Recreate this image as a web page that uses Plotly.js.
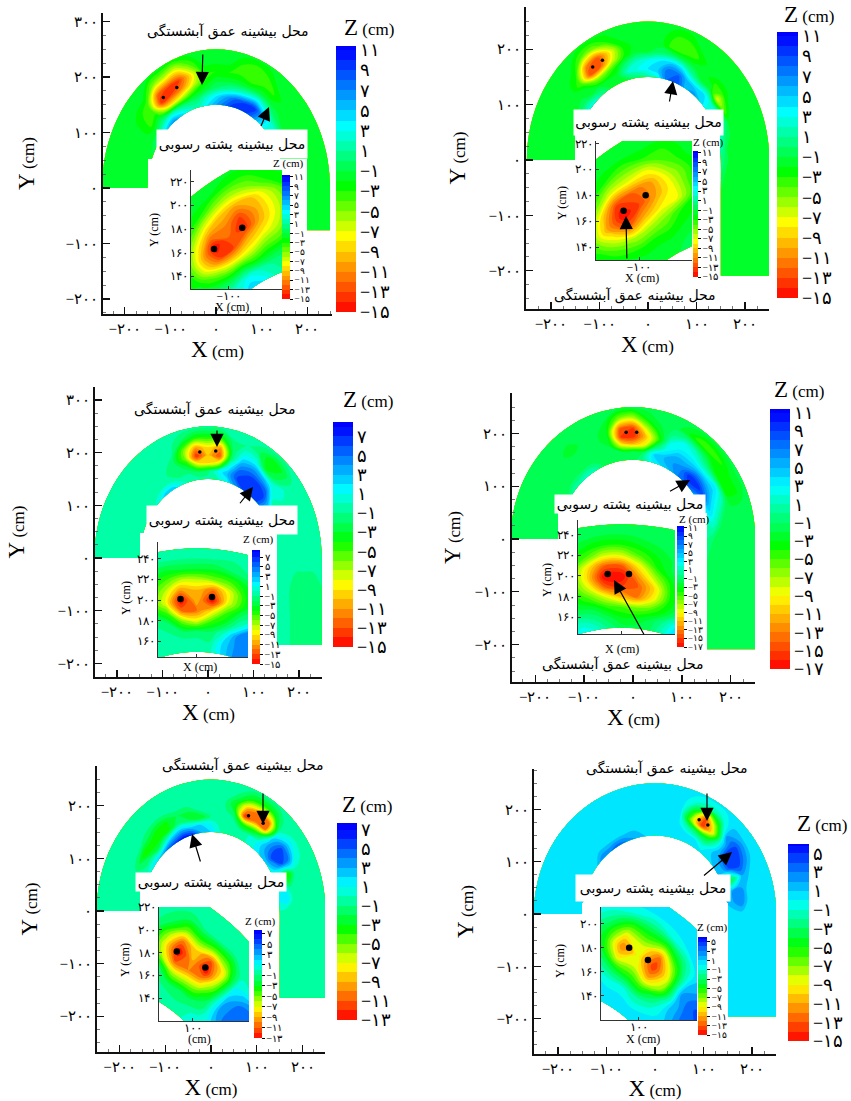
<!DOCTYPE html>
<html><head><meta charset="utf-8">
<script src="https://cdn.plot.ly/plotly-3.0.1.min.js"></script>
<style>html,body{margin:0;padding:0;background:#fff}</style></head>
<body><div id="g" style="width:851px;height:1101px"></div>
<script>
// ---- channel stations ----
const radii=[150,165,180,195,210,230,250];
const bendAngles=[180,172.5,165,157.5,150,142.5,135,127.5,120,112.5,105,97.5,90,82.5,75,67.5,60,52.5,45,37.5,30,22.5,15,7.5,0];
const legEnds=[-76,-209,-165,-209,-165,-196];
const insetRadii=[150,160,170,180,190,200,210,220,230,240,250];
const insetAngles=[[140,135,130,125,120,115,110,105,100],[140,135,130,125,120,115,110,105,100],
 [110,105,100,95,90,85,80,75,70,65],[110,105,100,95,90,85,80,75,70,65],
 [75,70,65,60,55,50,45,40,35],[75,70,65,60,55,50,45,40,35]];
// ---- bed level, main panels (rows: along channel, columns: across channel) ----
const B1=[-1.5,-1.5,-1.5,-1.5,-1.5,-1.5,-1.5];
const z1=[B1,B1,B1,[-1,-1.5,-1.5,-1.5,-1.5,-1.5,-1.5],[0,-1.5,-1.5,-1.5,-1.5,-1.5,-1.5],[3,-1,-3,-3,-2.5,-1.5,-1.5],[5,1,-2,-4,-4,-1.5,-1.5],[7,2,-7,-14,-12,-5,-1.5],[5,1,-8,-13,-13,-6,-1.5],[3,0,-6,-11,-13,-7,-2],[2,0,-3,-7,-8,-4,-1.5],[4,2,-1.5,-3,-3,-1.5,-1.5],[6,4,0,-1.5,-3,-1.5,-1.5],[8,6,1,-1.5,-3,-1.5,-1.5],[10,8,2,-1.5,-3,-3,-1.5],[10,9,3,-1.5,-4,-4,-1.5],[8,10,4,-1,-3,-3,-1.5],[5,6,2,-1.5,-3,-1.5,-1.5],[3,3,0,-1.5,-1.5,-1.5,-1.5],[3,2,-1,-1.5,-1.5,-1.5,-1.5],[2,1,-1,-1.5,-1.5,-1.5,-1.5],[0,-1,-1.5,-1.5,-1.5,-1.5,-1.5],B1,B1,B1,B1,B1,B1];
const z2=[B1,B1,B1,[0,-1.5,-1.5,-1.5,-1.5,-1.5,-1.5],[1,-1,-1.5,-1.5,-1.5,-1.5,-1.5],[3,0,-1.5,-1.5,-1.5,-1.5,-1.5],[3,-1,-1.5,-4,-3,-1.5,-1.5],[1,-1,-5,-13,-11,-4,-1.5],[-1,-1.5,-5,-12,-13,-5,-1.5],[-1.5,-1.5,-3,-7,-8,-3,-1.5],[-1,2,0,-3,-3,-1.5,-1.5],[0,3,2,-1,-1.5,-1.5,-1.5],[1,4,3,-1,-1.5,-1.5,-1.5],[3,5,4,0,-1.5,-1.5,-1.5],[8,8,5,0,-4,-3,-1.5],[9,8,4,-1,-4,-3,-1.5],[6,5,1,-1.5,-3,-1.5,-1.5],[7,4,-1,-1.5,-1.5,-1.5,-1.5],[5,4,-1,-3,-1.5,-1.5,-1.5],[3,2,-7,-3,-1.5,-1.5,-1.5],[3,3,-4,-1.5,-1.5,-1.5,-1.5],[4,2,-1.5,-1.5,-1.5,-1.5,-1.5],[3,0,-1.5,-1.5,-1.5,-1.5,-1.5],[2,-1,-1.5,-1.5,-1.5,-1.5,-1.5],[1,-1,-1.5,-1.5,-1.5,-1.5,-1.5],B1,B1,B1];
const B3=[-.5,-.5,-.5,-.5,-.5,-.5,-.5];
const L3=[-.5,-.5,-1,-1.5,-1.5,-1.5,-1];
const z3=[B3,B3,B3,B3,B3,B3,[1,-.5,-.5,-.5,-.5,-.5,-.5],[3,0,-.5,-.5,-.5,-.5,-.5],[3,0,-1,-.5,-.5,-.5,-.5],[1,-1,-1,-2,-1,-.5,-.5],[-.5,-1,-3,-6,-6,-2,-.5],[-.5,-2,-8,-14,-11,-4,-.5],[-.5,-1.5,-9,-10,-9,-4,-.5],[-.5,1,-7,-13,-11,-4,-.5],[1,3,1,-2,-2,-1,-.5],[4,6,5,3,1,-1,-.5],[6,7,6,4,1,-2,-.5],[7,7,6,3,-3,-4,-.5],[6,7,5,1,-2,-3,-.5],[3,3,0,1,0,-1,-.5],[1,0,-2,-1,-1,-.5,-.5],[1,-1,-2,-.5,-.5,-.5,-.5],B3,B3,B3,L3,L3,L3];
const z4=[B1,B1,B1,B1,[-1,-1.5,-1.5,-1.5,-1.5,-1.5,-1.5],[1,-1.5,-1.5,-1.5,-1.5,-1.5,-1.5],[1,-1,-1.5,-1.5,-1.5,-1.5,-1.5],[2,-1,-1.5,-1.5,-3,-1.5,-1.5],[1,-1,-1.5,-1.5,-1.5,-1.5,-1.5],[-1,-1.5,-1.5,-1.5,-1.5,-1.5,-1.5],[-1.5,-1.5,-2,-3,-3,-2,-1.5],[-1.5,-1.5,-9,-15,-14,-6,-1.5],[-1.5,-1.5,-11,-16,-15,-7,-1.5],[0,-1,-9,-11,-8,-3,-1.5],[3,4,-1,-5,-3,-1.5,-1.5],[4,5,3,2,0,-1.5,-1.5],[5,6,5,3,2,-3,-1.5],[7,7,5,3,1,-5,-1.5],[8,10,6,2,-1,-5,-1.5],[7,10,6,2,-3,-4,-1.5],[4,8,5,3,-4,-3,-1.5],[2,5,3,1,-3,-3,-1.5],[1,3,1,-1.5,-1.5,-1.5,-1.5],[1,1,-1,-1.5,-1.5,-1.5,-1.5],[0,-1,-1.5,-1.5,-1.5,-1.5,-1.5],B1,B1,B1];
const z5=[B3,B3,B3,B3,[1,-1,-2,-.5,-.5,-.5,-.5],[2,-1,-4,-1,-.5,-.5,-.5],[3,-2,-4,-2,-.5,-.5,-.5],[5,0,-4,-3,-1,-.5,-.5],[6,2,-3,-3,-1,-.5,-.5],[7,3,-1,-2,-.5,-.5,-.5],[6,2,-2,-2,-.5,-.5,-.5],[3,2,-3,-.5,-.5,-.5,-.5],[2,1,-1,-.5,-.5,-.5,-.5],[0,-.5,-.5,-.5,-.5,-.5,-.5],[0,-.5,-.5,-2,-3,-1,-.5],[-.5,-.5,-4,-12,-9,-3,-.5],[0,0,-4,-10,-11,-4,-.5],[1,1,-2,-10,-10,-3,-.5],[2,3,3,2,0,-.5,-.5],[2,5,6,5,2,-.5,-.5],[1,3,5,4,1,-.5,-.5],[0,-2,-4,-1,-.5,-.5,-.5],[1,1,-1,-.5,-.5,-.5,-.5],[1,2,0,-.5,-.5,-.5,-.5],[0,-.5,-.5,-.5,-.5,-.5,-.5],B3,B3,B3];
const B6=[.5,.5,.5,.5,.5,.5,.5];
const z6=[B6,B6,B6,B6,B6,[1,.5,.5,.5,.5,.5,.5],[3,1,.5,.5,.5,.5,.5],[3,1,0,.5,.5,.5,.5],[4,1,.5,.5,.5,.5,.5],[3,1,.5,.5,.5,.5,.5],[2,1,.5,.5,.5,.5,.5],[1,.5,.5,.5,.5,.5,.5],B6,B6,B6,[.5,.5,-2,-7,-5,-1,.5],[.5,0,-4,-14,-13,-2,.5],[.5,-1,-4,-9,-6,-1,.5],[1,1,0,0,2,1,.5],[1,2,4,5,4,1,.5],[1,2,5,5,3,.5,.5],[1,-4,-2,2,1,.5,.5],[1,2,3,1,.5,.5,.5],[1,2,3,.5,.5,.5,.5],B6,B6,B6,B6];
// ---- bed level, close-ups ----
const i1=[[0,-1,-1.5,-1.5,-1.5,-1.5,-1.5,-1.5,-1.5,-1.5,-1.5],[1,0,-1.5,-1.5,-2.5,-3,-2.5,-1.5,-1.5,-1.5,-1.5],[2,1,-1,-4,-8,-9,-7,-4,-2,-1.5,-1.5],[3,2,-2,-7,-13,-15,-11,-7,-3,-1.5,-1.5],[5,3,-2,-8,-13,-12,-11,-9,-5,-2,-1.5],[4,2,-3,-7,-10,-14,-13,-10,-6,-3,-1.5],[2,1,-2,-5,-8,-10,-10,-9,-5,-3,-1.5],[1,1,-1,-4,-6,-7,-7,-6,-3,-2,-1.5],[2,2,0,-2,-3,-4,-4,-3,-2,-1.5,-1.5]];
const i2=[[0,-1,-1.5,-1.5,-1.5,-1.5,-1.5,-1.5,-1.5,-1.5,-1.5],[-1,-1.5,-1.5,-2,-3,-4,-3,-2,-1.5,-1.5,-1.5],[-1,-1.5,-2,-4,-7,-10,-8,-4,-2,-1.5,-1.5],[-1,-1.5,-3,-6,-12,-15,-13,-7,-3,-1.5,-1.5],[-1,-1.5,-3,-6,-10,-13,-12,-7,-4,-1.5,-1.5],[-1,-1.5,-3,-5,-8,-10,-10,-7,-3,-1.5,-1.5],[0,-1,-2,-3,-7,-7,-6,-4,-3,-1.5,-1.5],[0,-1,-1.5,-2,-3,-3,-3,-2,-1.5,-1.5,-1.5],[-1,-1,-1.5,-1.5,-1.5,-1.5,-1.5,-1.5,-1.5,-1.5,-1.5]];
const i3=[[-.5,-.5,-.5,-.5,-1,-1.5,-1.5,-1,-.5,-.5,-.5],[-.5,-.5,-.5,-1,-2,-4,-4,-3,-2,-1,-.5],[-.5,-.5,-1,-2,-5,-8,-7,-5,-3,-1,-.5],[-.5,-.5,-2,-6,-12,-15,-11,-7,-3,-1,-.5],[-.5,-.5,-2,-8,-12,-10,-10,-7,-3,-1,-.5],[-.5,-1,-2,-5,-9,-15,-12,-6,-3,-1,-.5],[2,2,0,-3,-5,-8,-8,-5,-2,-1,-.5],[4,4,4,0,-2,-4,-4,-3,-1,-.5,-.5],[5,5,5,4,0,-1,-2,-1,-.5,-.5,-.5],[5,5,5,4,1,-.5,-1,-.5,-.5,-.5,-.5]];
const i4=[[1,0,-1.5,-1.5,-1.5,-1.5,-1.5,-1.5,-1.5,-1.5,-1.5],[3,1,-1.5,-3,-4,-4,-4,-3,-2,-1.5,-1.5],[2,0,-2,-5,-8,-10,-9,-5,-3,-1.5,-1.5],[0,-1.5,-4,-8,-14,-17,-14,-8,-4,-2,-1.5],[-1.5,-3,-5,-11,-15,-17,-14,-8,-4,-2,-1.5],[-1.5,-3,-6,-13,-14,-12,-9,-5,-3,-1.5,-1.5],[-1.5,-2,-5,-9,-10,-7,-4,-3,-2,-1.5,-1.5],[1,0,-3,-4,-4,-3,-1.5,-1.5,-1.5,-1.5,-1.5],[4,3,0,-1.5,-1.5,-1.5,-1.5,-1.5,-1.5,-1.5,-1.5],[6,5,2,-1,-1.5,-1.5,-1.5,-1.5,-1.5,-1.5,-1.5]];
const i5=[[-.5,-.5,-.5,-1,-1.5,-1.5,-1,-.5,-.5,-.5,-.5],[-.5,-.5,-1,-2,-6,-7,-5,-2,-1,-.5,-.5],[-.5,-.5,-2,-6,-11,-13,-10,-5,-2,-.5,-.5],[-.5,-1,-2,-6,-10,-9,-8,-4,-1,-.5,-.5],[0,-.5,-2,-5,-9,-13,-11,-5,-1,-.5,-.5],[.5,.5,-1,-2,-4,-6,-7,-4,-1,-.5,-.5],[1,1,2,3,3,2,1,0,-.5,-.5,-.5],[1,2,4,5,5,5,3,0,-.5,-.5,-.5],[1,2,4,5,5,5,4,1,-.5,-.5,-.5]];
const i6=[[.5,.5,.5,0,-1,-1.5,-1,0,.5,.5,.5],[.5,.5,0,-2,-4,-5,-4,-2,0,.5,.5],[.5,.5,-1,-4,-9,-12,-9,-5,-1,.5,.5],[.5,.5,-1,-5,-8,-9,-8,-5,-2,.5,.5],[.5,0,-2,-6,-11,-14,-12,-6,-1,.5,.5],[.5,.5,-1,-3,-7,-8,-6,-3,0,.5,.5],[1,.5,.5,1,1,2,1,.5,.5,.5,.5],[1,1,2,3,4,4,3,2,.5,.5,.5],[1,1,2,3,4,5,4,2,.5,.5,.5]];
// ---- maximum scour points ----
const scourX=[[-115.5,-86],[-114,-94],[-18,17],[-14,7.5],[82,114],[91,109]];
const scourY=[[163,181],[168,180],[201,203],[202,202],[181,167],[180,170]];
// ---- colour bar limits and ticks ----
const barMin=[-15,-15,-15,-17,-13,-15];
const barMax=[11,11,7,11,7,5];
const bandTop=[11.4,11.4,8.5,11.4,7.7,6];
const yTickVals=[[300,200,100,0,-100,-200],[200,100,0,-100,-200],[300,200,100,0,-100,-200],[200,100,0,-100,-200],[200,100,0,-100,-200],[200,100,0,-100,-200]];
const xTickVals=[-200,-100,0,100,200];
const insetYTicks=[[220,200,180,160,140],[220,200,180,160,140],[240,220,200,180,160],[240,220,200,180,160],[220,200,180,160,140],[200,180,160,140]];
const insetXTicks=[[-100],[-100],[0],[0],[100],[100]];
const insetXLabels=[['−۱۰۰'],['−۱۰۰'],[''],[''],['۱۰۰'],['۱۰۰']];
const insetXTitles=['X (cm)','X (cm)','X (cm)','X (cm)','(cm)','X (cm)'];
const labelScour='محل بیشینه عمق آبشستگی';
const labelBar='محل بیشینه پشته رسوبی';
const colours=[[0,'#ff0000'],[.29,'#ffff00'],[.48,'#00ff00'],[.71,'#00ffff'],[1,'#0000ff']];

// ---- layout in pixels ----
const W=851,H=1101;
const geo=[
 {l:103,r:332,t:13,b:314,cx:216,sx:.456,cy:188,sy:.555,yT:76},
 {l:526,r:769,t:7,b:309,cx:648,sx:.485,cy:160,sy:.554,yT:68},
 {l:95,r:322,t:387,b:677,cx:208,sx:.455,cy:558,sy:.527,yT:78},
 {l:512,r:755,t:393,b:682,cx:633,sx:.489,cy:539,sy:.528,yT:59},
 {l:97,r:325,t:766,b:1052,cx:211,sx:.4575,cy:911,sy:.526,yT:67},
 {l:534,r:776,t:769,b:1054,cx:655,sx:.485,cy:914,sy:.5233,yT:68}];
const insets=[
 {l:191,r:282,t:170,b:289,x:[-139.6,-44.4],y:[129,230]},
 {l:596,r:692,t:141,b:260,x:[-139,-52],y:[130,222]},
 {l:158,r:248,t:542,b:657,x:[-43,57],y:[145,256]},
 {l:578,r:675,t:520,b:634,x:[-44,54],y:[144,254]},
 {l:159,r:249,t:907,b:1021,x:[62,163],y:[120,220]},
 {l:601,r:697,t:907,b:1020,x:[64,156],y:[120,214]}];
const masks=[[148,307,159,300],[575,720,135,290],[140,277,533,665],[558,707,513,665],[140,279,890,1040],[582,728,903,1040]];
const bars=[[336,356,46,312],[777,798,32,298],[333,353,422,647],[770,790,409,669],[337,357,823,1020],[788,809,844,1041]];
const miniBars=[[282,290,175,299],[693,698,151,277],[252,260,550,664],[677,684,526,647],[254,262,930,1038],[698,707,937,1035]];
const barTitle=[[369,27],[809,15],[368,399],[799,389],[367,804],[822,823]];
const miniTitle=[[288,164],[708,142],[258,539],[694,519],[260,921],[712,927]];
const miniY=[[154,230],[562,203],[126,598],[547,580],[125,960],[560,961]];
const miniX=[[232,307],[642,278],[200,667],[622,649],[199,1039],[643,1039]];
const labels=[
 {s:[228,32],b:[232,144,148,26],sa:[202,85,203,46],ba:[269,107,258,133]},
 {s:[635,295],b:[648,123,147,23],sa:[626,216,627,267],ba:[673,81,668,110]},
 {s:[215,410],b:[222,520,148,26],sa:[217,447,217,422],ba:[253,487,237,507]},
 {s:[623,664],b:[630,504,148,16],sa:[614,580,647,640],ba:[690,480,667,493]},
 {s:[243,766],b:[211,882,148,16],sa:[263,824,263,785],ba:[192,834,203,870]},
 {s:[667,768],b:[653,888,152,24],sa:[707,821,707,785],ba:[732,852,701,878]}];

const serif='"Liberation Serif","Times New Roman",serif';
const farsi='"DejaVu Sans","Noto Sans",sans-serif';
const FA='۰۱۲۳۴۵۶۷۸۹';
const fa=v=>(v<0?'−':'')+String(Math.abs(v)).replace(/\d/g,d=>FA[d]);
const px=v=>v/W, py=v=>1-v/H;
const bigTitle=l=>'<span style="font-size:23px">'+l+'</span> (cm)';

const traces=[],layout={width:W,height:H,margin:{l:0,r:0,t:0,b:0},paper_bgcolor:'#fff',plot_bgcolor:'#fff',showlegend:false,annotations:[],font:{family:serif,color:'#000'}};
const zs=[z1,z2,z3,z4,z5,z6],izs=[i1,i2,i3,i4,i5,i6];
const polar=(r,t)=>[r*Math.cos(t*Math.PI/180),r*Math.sin(t*Math.PI/180)];
function carpetAxis(){return {showticklabels:'none',showgrid:false,showline:false,startline:false,endline:false,minorgridcount:0,ticks:'',smoothing:0,title:{text:''},cheatertype:'value'};}
function addField(id,xa,ya,a,xx,yy,z,i,bar,thin){
 traces.push({type:'carpet',carpet:id,a:a,b:z.map((_,k)=>k),x:xx,y:yy,xaxis:xa,yaxis:ya,aaxis:carpetAxis(),baxis:Object.assign(carpetAxis(),{smoothing:1}),hoverinfo:'skip'});
 const vals=[];for(let v=barMax[i];v>=barMin[i];v-=2)vals.push(v);
 const step=(bar[3]-bar[2])/vals.length;
 traces.push({type:'contourcarpet',carpet:id,a:a,b:z.map((_,k)=>k),z:z,xaxis:xa,yaxis:ya,autocontour:false,zauto:false,zmin:barMin[i],zmax:bandTop[i],
  contours:{start:barMin[i],end:Math.floor(bandTop[i]),size:1,coloring:'fill',showlines:false},line:{width:0,smoothing:1},colorscale:colours,hoverinfo:'skip',
  colorbar:{x:px(bar[0]),xanchor:'left',xpad:0,y:py(bar[3]),yanchor:'bottom',ypad:0,lenmode:'pixels',len:bar[3]-bar[2],thickness:bar[1]-bar[0],thicknessmode:'pixels',outlinewidth:0,
   tickmode:'array',tickvals:vals,ticktext:vals.map(fa),ticks:thin?'outside':'',ticklen:thin?3:0,tickcolor:'#000',tickwidth:1,tickfont:{family:serif,size:thin?Math.min(11,step+.5):18,color:'#000'}}});
}
function note(text,x,y,size,extra){layout.annotations.push(Object.assign({text:text,xref:'paper',yref:'paper',x:px(x),y:py(y),xanchor:'center',yanchor:'middle',showarrow:false,font:{family:serif,size:size,color:'#000'}},extra||{}));}
function arrow(a){layout.annotations.push({text:' ',xref:'paper',yref:'paper',x:px(a[0]),y:py(a[1]),axref:'pixel',ayref:'pixel',ax:a[2]-a[0],ay:a[3]-a[1],showarrow:true,arrowhead:2,arrowsize:2.2,arrowwidth:1.2,arrowcolor:'#000',standoff:0,startstandoff:0});}

geo.forEach((g,i)=>{
 const n=i+1,m=i+7,q=i+13;
 // main axes
 const common={showgrid:false,zeroline:false,showline:true,linecolor:'#111',linewidth:2,ticks:'inside',ticklen:7,tickwidth:1.2,tickcolor:'#111',tickmode:'array',tickfont:{family:serif,size:15,color:'#000'},
   minor:{ticks:'inside',ticklen:3,tickwidth:.8,tickcolor:'#555',tickmode:'linear',dtick:25,showgrid:false}};
 layout['xaxis'+n]=Object.assign({},common,{domain:[px(g.l),px(g.r)],range:[(g.l-g.cx)/g.sx,(g.r-g.cx)/g.sx],anchor:'y'+n,tickvals:xTickVals,ticktext:xTickVals.map(fa),title:{text:bigTitle('X'),font:{family:serif,size:17},standoff:8}});
 layout['yaxis'+n]=Object.assign({},common,{domain:[py(g.b),py(g.t)],range:[(g.cy-g.b)/g.sy,(g.cy-g.t)/g.sy],anchor:'x'+n,tickvals:yTickVals[i],ticktext:yTickVals[i].map(fa),title:{text:bigTitle('Y'),font:{family:serif,size:17},standoff:g.yT-49}});
 const legN=[legEnds[i]/3,2*legEnds[i]/3,legEnds[i]];
 const xx=[],yy=[];
 bendAngles.forEach(t=>{xx.push(radii.map(r=>polar(r,t)[0]));yy.push(radii.map(r=>polar(r,t)[1]));});
 legN.forEach(v=>{xx.push(radii.slice());yy.push(radii.map(()=>v));});
 addField('c'+n,'x'+n,'y'+n,radii,xx,yy,zs[i],i,bars[i],false);
 traces.push({type:'scatter',mode:'markers',x:scourX[i],y:scourY[i],xaxis:'x'+n,yaxis:'y'+n,marker:{color:'#000',size:3.5},hoverinfo:'skip'});
 // white panel behind the close-up
 const k=masks[i];
 layout['xaxis'+m]={visible:false,domain:[px(k[0]),px(k[1])],range:[0,1],anchor:'y'+m,fixedrange:true};
 layout['yaxis'+m]={visible:false,domain:[py(k[3]),py(k[2])],range:[0,1],anchor:'x'+m,fixedrange:true};
 traces.push({type:'scatter',mode:'markers',x:[.5],y:[.5],xaxis:'x'+m,yaxis:'y'+m,marker:{color:'#fff',size:1},hoverinfo:'skip'});
 // close-up
 const c=insets[i];
 const cfont={family:serif,size:11.5,color:'#000'};
 const ccommon={showgrid:false,zeroline:false,showline:true,linecolor:'#333',linewidth:1,ticks:'inside',ticklen:3,tickwidth:1,tickcolor:'#333',tickmode:'array',tickfont:cfont};
 layout['xaxis'+q]=Object.assign({},ccommon,{domain:[px(c.l),px(c.r)],range:c.x,anchor:'y'+q,tickvals:insetXTicks[i],ticktext:insetXLabels[i],ticklabelstandoff:-4});
 layout['yaxis'+q]=Object.assign({},ccommon,{domain:[py(c.b),py(c.t)],range:c.y,anchor:'x'+q,tickvals:insetYTicks[i],ticktext:insetYTicks[i].map(fa)});
 const ix=[],iy=[];
 insetAngles[i].forEach(t=>{ix.push(insetRadii.map(r=>polar(r,t)[0]));iy.push(insetRadii.map(r=>polar(r,t)[1]));});
 addField('d'+n,'x'+q,'y'+q,insetRadii,ix,iy,izs[i],i,miniBars[i],true);
 traces.push({type:'scatter',mode:'markers',x:scourX[i],y:scourY[i],xaxis:'x'+q,yaxis:'y'+q,marker:{color:'#000',size:6.5},hoverinfo:'skip'});
 // titles and labels
 note(bigTitle('Z'),barTitle[i][0],barTitle[i][1],17);
 note('Z (cm)',miniTitle[i][0],miniTitle[i][1],11);
 note('Y (cm)',miniY[i][0],miniY[i][1],12,{textangle:-90});
 note(insetXTitles[i],miniX[i][0],miniX[i][1],12);
 const L=labels[i];
 note(labelScour,L.s[0],L.s[1],13,{font:{family:farsi,size:14,color:'#000'}});
 note(labelBar,L.b[0],L.b[1],13,{font:{family:farsi,size:14,color:'#000'},bgcolor:'#fff',width:L.b[2],height:L.b[3]});
 arrow(L.sa);arrow(L.ba);
});
Plotly.newPlot('g',traces,layout,{staticPlot:true,displayModeBar:false});
</script></body></html>
